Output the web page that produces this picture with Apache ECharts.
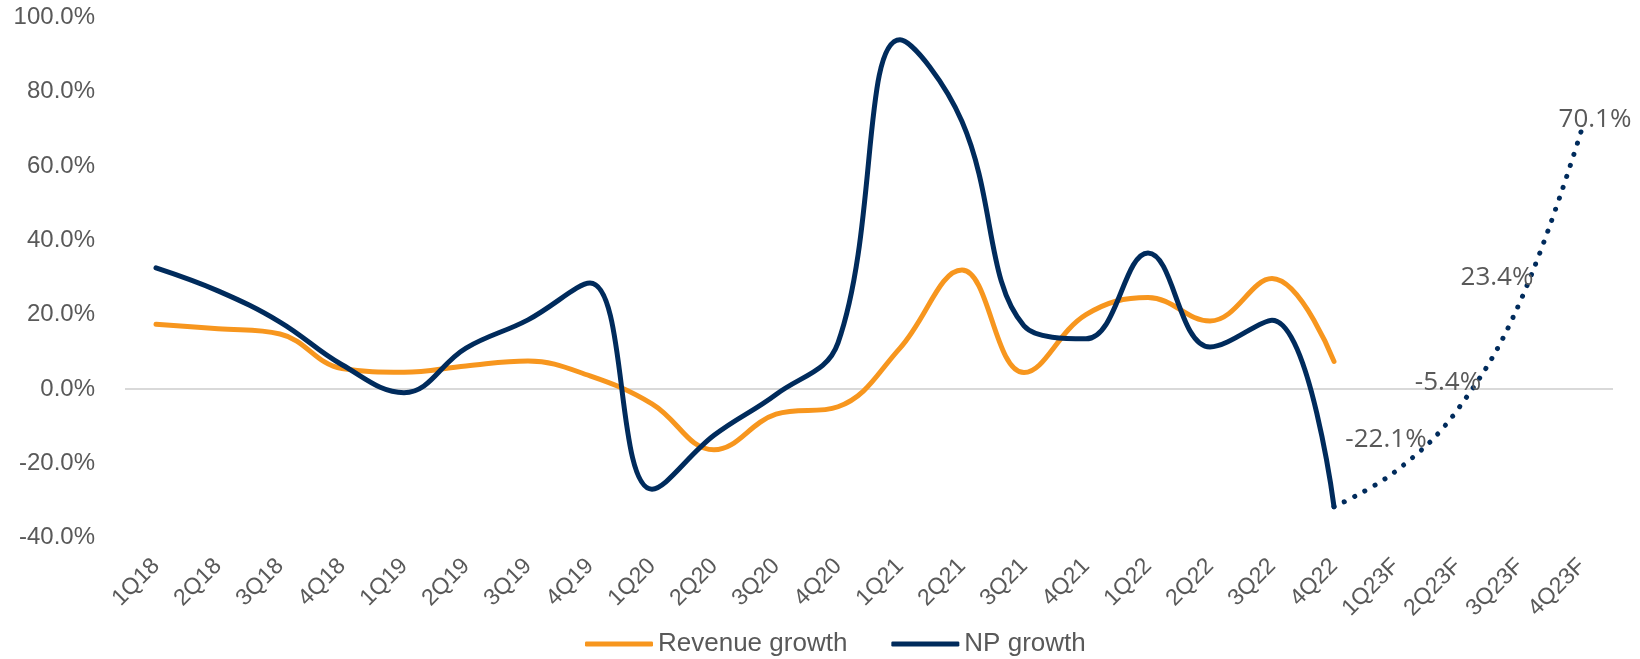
<!DOCTYPE html>
<html style="height: 100%;width:100%">
	<head>
		<meta charset="utf-8">
	</head>
	<body style="height: 100%; width:100%; margin:0">
		<div id="chart-panel" style="width: 1640px;height: 659px"></div>
		<script type="text/javascript" src="https://cdn.jsdelivr.net/npm/echarts@6/dist/echarts.min.js"></script>

		<script type="text/javascript">
			var dom = document.getElementById("chart-panel");
			var myChart = echarts.init(dom);

			// categories
			let quarters = ['1Q18', '2Q18', '3Q18', '4Q18', '1Q19', '2Q19', '3Q19', '4Q19',
				'1Q20', '2Q20', '3Q20', '4Q20', '1Q21', '2Q21', '3Q21', '4Q21',
				'1Q22', '2Q22', '3Q22', '4Q22', '1Q23F', '2Q23F', '3Q23F', '4Q23F'
			];
			// actuals (%)
			let revenueGrowth = [17.4, 16.2, 14.8, 5.5, 4.5, 6.2, 7.5, 3.5, -4, -16.4, -6.8, -4.8,
				11, 32, 4.4, 20, 24.6, 18.3, 29.7, 7.4
			];
			let npGrowth = [32.6, 26.4, 18, 6.5, -1, 11, 18.6, 28.5, -27, -12.5, -1.5, 12.4,
				94, 72, 17, 13.5, 36.6, 11.3, 18.5, -31.7
			];
			// forecast, starts from the last actual point (4Q22)
			let npForecast = [null, null, null, null, null, null, null, null, null, null,
				null, null, null, null, null, null, null, null, null, -31.7, -22.1, -5.4, 23.4, 70.1
			];
			// label centre relative to its point (px)
			let forecastLabelShift = {
				20: [-10, -31],
				21: [-10, -26],
				22: [-23, -24],
				23: [13, -9]
			};

			let forecastData = npForecast.map(function(v, i) {
				let s = forecastLabelShift[i];
				return {
					value: v,
					label: s ? {
						show: true,
						position: [s[0] + 1, s[1] + 1]
					} : {
						show: false
					}
				};
			});

			var option = {
				animation: false,
				backgroundColor: '#ffffff',
				grid: {
					left: 125,
					right: 27,
					top: 17.5,
					bottom: 121.5,
					outerBoundsMode: 'none'
				},
				legend: {
					data: ['Revenue growth', 'NP growth'],
					left: 580,
					top: 626,
					icon: 'roundRect',
					itemWidth: 68,
					itemHeight: 5,
					itemGap: 44,
					textStyle: {
						color: '#595959',
						fontSize: 26,
						fontFamily: 'Liberation Sans'
					}
				},
				xAxis: {
					type: 'category',
					data: quarters,
					boundaryGap: true,
					axisLine: { show: false },
					axisTick: { show: false },
					axisLabel: {
						interval: 0,
						rotate: 45,
						margin: 25,
						color: '#595959',
						fontSize: 23,
						fontFamily: 'Liberation Sans'
					}
				},
				yAxis: {
					type: 'value',
					min: -40,
					max: 100,
					interval: 20,
					axisLine: { show: false },
					axisTick: { show: false },
					splitLine: { show: false },
					axisLabel: {
						margin: 30,
						color: '#595959',
						fontSize: 24,
						fontFamily: 'Liberation Sans',
						formatter: function(v) {
							return v.toFixed(1) + '%';
						}
					}
				},
				series: [{
						name: 'Revenue growth',
						type: 'line',
						data: revenueGrowth,
						smooth: 0.4,
						symbol: 'none',
						color: '#F7961E',
						z: 3,
						lineStyle: {
							width: 5,
							color: '#F7961E',
							cap: 'round'
						},
						markLine: {
							silent: true,
							symbol: ['none', 'none'],
							label: { show: false },
							z: 1,
							lineStyle: {
								color: '#d9d9d9',
								width: 2,
								type: 'solid'
							},
							data: [{ yAxis: 0 }]
						}
					},
					{
						name: 'NP growth',
						type: 'line',
						data: npGrowth,
						smooth: 0.4,
						symbol: 'none',
						color: '#002B5C',
						z: 4,
						lineStyle: {
							width: 5,
							color: '#002B5C',
							cap: 'round'
						}
					},
					{
						name: 'NP forecast', //虚线预测
						type: 'line',
						data: forecastData,
						smooth: 0.4,
						symbol: 'circle',
						symbolSize: 2,
						showSymbol: true,
						showAllSymbol: true,
						color: '#002B5C',
						z: 4,
						itemStyle: {
							color: 'rgba(0,0,0,0)'
						},
						lineStyle: {
							width: 5,
							color: '#002B5C',
							type: [0.1, 11.5],
							cap: 'round'
						},
						labelLayout: {
							hideOverlap: false
						},
						label: {
							show: true,
							align: 'center',
							verticalAlign: 'middle',
							color: '#595959',
							fontSize: 26,
							fontFamily: 'Open Sans',
							formatter: function(p) {
								return p.value.toFixed(1) + '%';
							}
						}
					}
				]
			};
			myChart.setOption(option);
		</script>
	</body>
</html>
